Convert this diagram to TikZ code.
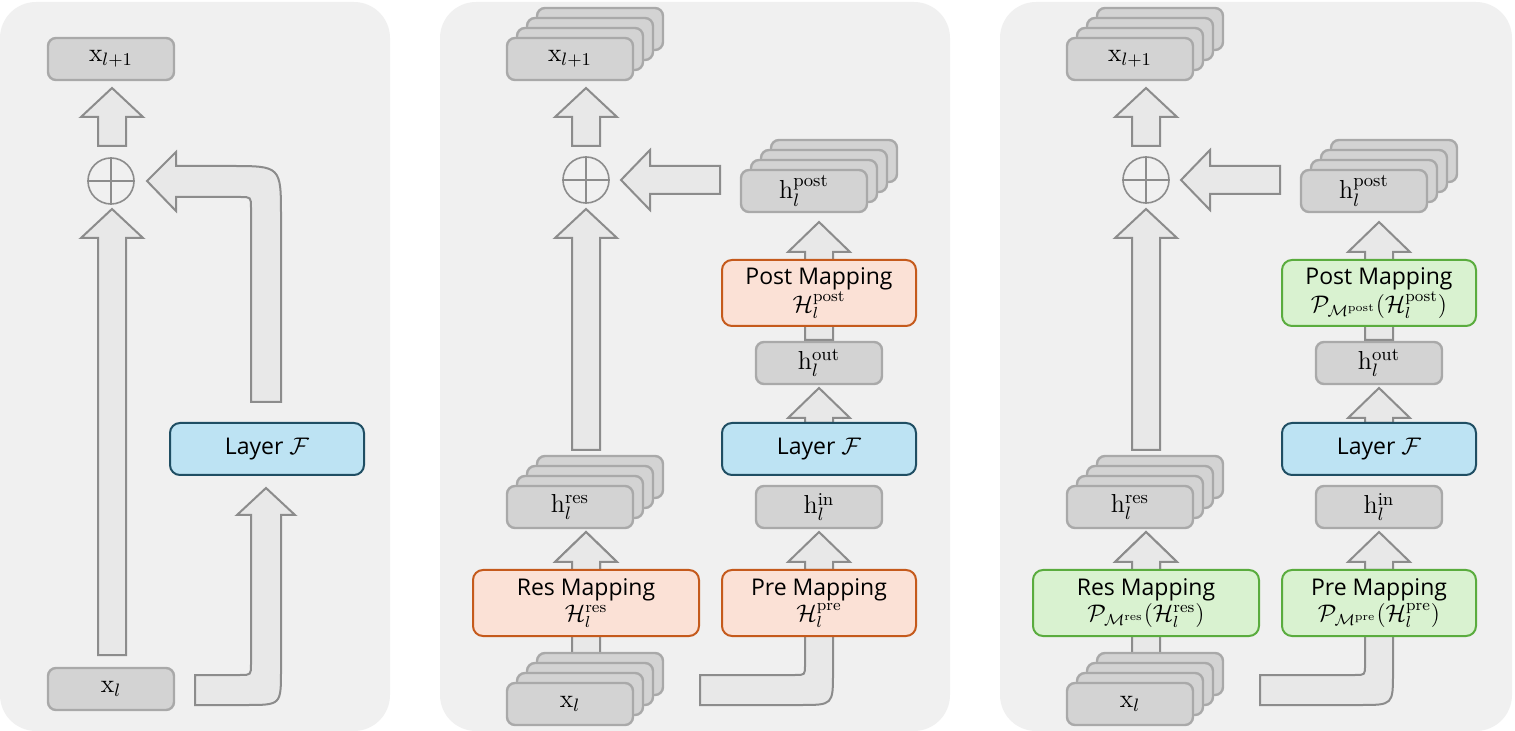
\documentclass[tikz,border=0pt]{standalone}
\usepackage{fontspec}
\setsansfont{Open Sans}
\begin{document}
\definecolor{panel}{HTML}{F0F0F0}
\definecolor{gfill}{HTML}{D3D3D3}
\definecolor{gdraw}{HTML}{A9A9A9}
\definecolor{afill}{HTML}{E8E8E8}
\definecolor{adraw}{HTML}{8C8C8C}
\definecolor{bfill}{HTML}{BDE3F3}
\definecolor{bdraw}{HTML}{1F4E63}
\definecolor{ofill}{HTML}{FBE1D6}
\definecolor{odraw}{HTML}{C55A1C}
\definecolor{nfill}{HTML}{D9F2D0}
\definecolor{ndraw}{HTML}{5AAC3E}
\begin{tikzpicture}[x=0.5pt,y=-0.5pt,
  panelbox/.style={fill=panel,draw=none,rounded corners=18pt},
  gbox/.style={fill=gfill,draw=gdraw,line width=1.2pt,rounded corners=4pt,minimum width=63pt,minimum height=21pt,inner sep=0pt,font=\fontsize{13}{14}\selectfont},
  mapbox/.style={line width=1pt,rounded corners=5pt,minimum width=97pt,minimum height=33pt,inner sep=0pt,align=center,font=\sffamily\fontsize{11.5}{13}\selectfont},
  layer/.style={mapbox,fill=bfill,draw=bdraw,minimum height=26pt},
  orange/.style={mapbox,fill=ofill,draw=odraw},
  green/.style={mapbox,fill=nfill,draw=ndraw},
  resbox/.style={minimum width=113pt},
  blk/.style={fill=afill,draw=adraw,line width=1pt},
  oplus/.style={circle,draw=adraw,line width=0.8pt,minimum size=23pt,inner sep=0pt}]
\useasboundingbox (0,0) rectangle (1515,731);
\fill[panelbox] (0,2) rectangle (390,731);
\fill[panelbox] (440,2) rectangle (950,731);
\fill[panelbox] (1000,2) rectangle (1512,731);
\newcommand\uparr[4]{\draw[blk] (#1-14,#2) -- (#1-14,#3) -- (#1-31,#3) -- (#1,#4) -- (#1+31,#3) -- (#1+14,#3) -- (#1+14,#2) -- cycle;}
\newcommand\stk[4]{%
  \foreach \k in {3,2,1}{\node[gbox] at (#2+10*\k,#3-10*\k) {};}
  \node[gbox] (#1) at (#2,#3) {#4};}
%%%%% Panel 1
\uparr{112}{146}{117}{88}
\uparr{112}{655}{238}{209}
\node[oplus] (p1c) at (111,181) {};
\draw[adraw,line width=0.8pt] (p1c.north)--(p1c.south) (p1c.west)--(p1c.east);
\draw[blk] (195,675) -- (240,675) .. controls (251,675) .. (251,664) -- (251,515) -- (237,515) -- (266,488) -- (295,515) -- (281,515) -- (281,670) .. controls (281,705) .. (246,705) -- (195,705) -- cycle;
\draw[blk] (251,402) -- (251,208) .. controls (251,197) .. (240,197) -- (176,197) -- (176,211) -- (147,181) -- (176,152) -- (176,166) -- (230,166) .. controls (281,166) .. (281,217) -- (281,402) -- cycle;
\node[gbox] (p1x1) at (111,59) {$\mathrm{x}_{l+1}$};
\node[gbox] (p1x) at (111,689) {$\mathrm{x}_{l}$};
\node[layer] (p1L) at (267,449) {Layer $\mathcal{F}$};
%%%%% Panels 2 and 3
\foreach \dx/\sty/\res/\pre/\post in {0/orange/{$\mathcal{H}_l^{\mathrm{res}}$}/{$\mathcal{H}_l^{\mathrm{pre}}$}/{$\mathcal{H}_l^{\mathrm{post}}$},
  560/green/{$\mathcal{P}_{\mathcal{M}^{\mathrm{res}}}(\mathcal{H}_l^{\mathrm{res}})$}/{$\mathcal{P}_{\mathcal{M}^{\mathrm{pre}}}(\mathcal{H}_l^{\mathrm{pre}})$}/{$\mathcal{P}_{\mathcal{M}^{\mathrm{post}}}(\mathcal{H}_l^{\mathrm{post}})$}}{
\begin{scope}[xshift=\dx*0.5pt]
\uparr{586}{146}{117}{88}
\uparr{586}{450}{238}{209}
\uparr{586}{570}{562}{532}
\uparr{586}{690}{562}{532}
\uparr{819}{340}{252}{222}
\uparr{819}{423}{418}{388}
\uparr{819}{570}{562}{532}
\draw[blk] (720,166) -- (650,166) -- (650,150) -- (621,180) -- (650,210) -- (650,194) -- (720,194) -- cycle;
\draw[blk] (700,675) -- (795,675) .. controls (805,675) .. (805,665) -- (805,630) -- (833,630) -- (833,672) .. controls (833,705) .. (800,705) -- (700,705) -- cycle;
\node[oplus] (c\dx) at (586,180) {};
\draw[adraw,line width=0.8pt] (c\dx.north)--(c\dx.south) (c\dx.west)--(c\dx.east);
\stk{xa\dx}{570}{59}{$\mathrm{x}_{l+1}$}
\stk{hp\dx}{804}{191}{$\mathrm{h}_l^{\mathrm{post}}$}
\stk{hr\dx}{570}{507}{$\mathrm{h}_l^{\mathrm{res}}$}
\stk{xl\dx}{570}{704}{$\mathrm{x}_{l}$}
\node[gbox] (ho\dx) at (819,363) {$\mathrm{h}_l^{\mathrm{out}}$};
\node[gbox] (hi\dx) at (819,507) {$\mathrm{h}_l^{\mathrm{in}}$};
\node[\sty] (pm\dx) at (819,293) {Post Mapping\\\post};
\node[layer] (L\dx) at (819,449) {Layer $\mathcal{F}$};
\node[\sty] (pr\dx) at (819,603) {Pre Mapping\\\pre};
\node[\sty,resbox] (rm\dx) at (586,603) {Res Mapping\\\res};
\end{scope}}
\end{tikzpicture}
\end{document}
